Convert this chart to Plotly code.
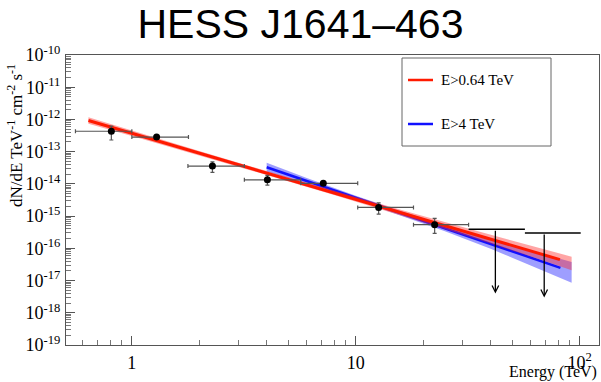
import plotly.graph_objects as go
import math

# ---------------- data ----------------
energy = [0.81, 1.29, 2.29, 4.03, 7.16, 12.65, 22.5]
energy_lo = [0.56, 1.0, 1.78, 3.18, 5.68, 10.2, 18.1]
energy_hi = [1.0, 1.79, 3.18, 5.68, 10.2, 18.1, 31.9]
flux = [4.3e-13, 2.84e-13, 3.57e-14, 1.34e-14, 1.04e-14, 1.86e-15, 5.44e-16]
flux_hi = [6.2e-13, 3.2e-13, 4.85e-14, 1.84e-14, 1.16e-14, 2.59e-15, 8.5e-16]
flux_lo = [2.3e-13, 2.5e-13, 2.28e-14, 9.2e-15, 0.93e-14, 1.15e-15, 2.9e-16]

ul_energy = [42.0, 69.4]
ul_energy_lo = [31.9, 56.9]
ul_energy_hi = [56.9, 101.0]
ul_flux = [3.94e-16, 2.97e-16]
ul_arrow_tip = [3.94e-18, 2.97e-18]

red_line_E = [0.64, 81.6]
red_line_F = [9.3e-13, 4.47e-17]
red_band_E = [0.64, 1, 2, 4, 8, 16, 32, 64, 92]
red_band_hi = [1.17e-12, 4.52e-13, 1.04e-13, 2.49e-14, 6.08e-15, 1.56e-15, 4.03e-16, 1.07e-16, 5.5e-17]
red_band_lo = [7.36e-13, 3.05e-13, 7.73e-14, 1.89e-14, 4.51e-15, 1.03e-15, 2.32e-16, 4.9e-17, 2.1e-17]

blue_line_E = [4.0, 82.0]
blue_line_F = [3.29e-14, 2.48e-17]
blue_band_E = [4, 6, 10, 15, 25, 40, 60, 92]
blue_band_hi = [4.49e-14, 1.54e-14, 4.27e-15, 1.63e-15, 5.16e-16, 1.94e-16, 8.67e-17, 3.77e-17]
blue_band_lo = [2.41e-14, 1.02e-14, 3.24e-15, 1.23e-15, 3.41e-16, 9.70e-17, 3.0e-17, 8.5e-18]

y_tick_exps = list(range(-19, -9))
x_tick_vals = [1, 10, 100]
x_tick_text = ["1", "10", "10<sup>2</sup>"]
legend_labels = ["E>0.64 TeV", "E>4 TeV"]

# ---------------- figure ----------------
SERIF = "Liberation Serif"
fig = go.Figure()

def band(E, hi, lo, color):
    return go.Scatter(x=E + E[::-1], y=hi + lo[::-1], fill="toself", fillcolor=color,
                      line=dict(width=0), mode="lines", hoverinfo="skip", showlegend=False)

fig.add_trace(band(blue_band_E, blue_band_hi, blue_band_lo, "rgba(40,40,255,0.45)"))
fig.add_trace(go.Scatter(x=blue_line_E, y=blue_line_F, mode="lines",
                         line=dict(color="#1010ff", width=2.5), showlegend=False))
fig.add_trace(band(red_band_E, red_band_hi, red_band_lo, "rgba(255,40,40,0.42)"))
fig.add_trace(go.Scatter(x=red_line_E, y=red_line_F, mode="lines",
                         line=dict(color="#ff1a00", width=3), showlegend=False))

# data points with errors
fig.add_trace(go.Scatter(
    x=energy, y=flux, mode="markers",
    marker=dict(color="black", size=7, symbol="circle"),
    error_x=dict(type="data", symmetric=False,
                 array=[h - e for h, e in zip(energy_hi, energy)],
                 arrayminus=[e - l for l, e in zip(energy_lo, energy)],
                 color="#555555", thickness=1.2, width=2),
    error_y=dict(type="data", symmetric=False,
                 array=[h - f for h, f in zip(flux_hi, flux)],
                 arrayminus=[f - l for l, f in zip(flux_lo, flux)],
                 color="#555555", thickness=1.2, width=2),
    showlegend=False))

# upper limits
for e, el, eh, f, tip in zip(ul_energy, ul_energy_lo, ul_energy_hi, ul_flux, ul_arrow_tip):
    fig.add_trace(go.Scatter(x=[el, eh], y=[f, f], mode="lines",
                             line=dict(color="black", width=1.5), showlegend=False))
    fig.add_annotation(x=math.log10(e), y=math.log10(tip), ax=math.log10(e), ay=math.log10(f),
                       xref="x", yref="y", axref="x", ayref="y", text="",
                       showarrow=True, arrowhead=5, arrowsize=1.0, arrowwidth=1.3,
                       arrowcolor="black")

# manual legend
def px2x(px):
    return (px - 66) / 533.0

def px2y(py):
    return (345 - py) / 290.0

fig.add_shape(type="rect", xref="paper", yref="paper",
              x0=px2x(402), x1=px2x(551), y0=px2y(146), y1=px2y(58),
              line=dict(color="#666666", width=1), fillcolor="white")
for lab, col, py in zip(legend_labels, ["#ff1a00", "#1010ff"], [80, 124]):
    fig.add_shape(type="line", xref="paper", yref="paper",
                  x0=px2x(408), x1=px2x(433), y0=px2y(py), y1=px2y(py),
                  line=dict(color=col, width=2.5))
    fig.add_annotation(xref="paper", yref="paper", x=px2x(439), y=px2y(py),
                       xanchor="left", yanchor="middle", text=lab, showarrow=False,
                       font=dict(family=SERIF, size=15, color="black"))

# axis titles
fig.add_annotation(xref="paper", yref="paper", x=px2x(15), y=px2y(136),
                   xanchor="center", yanchor="middle", textangle=-90, showarrow=False,
                   text="dN/dE TeV<sup>-1</sup> cm<sup>-2</sup> s<sup>-1</sup>",
                   font=dict(family=SERIF, size=17, color="black"))
fig.add_annotation(xref="paper", yref="paper", x=1.0, y=px2y(372),
                   xanchor="right", yanchor="middle", showarrow=False,
                   text="Energy (TeV)", font=dict(family=SERIF, size=16, color="black"))

fig.update_layout(
    width=601, height=382,
    margin=dict(l=66, r=2, t=55, b=37),
    paper_bgcolor="white", plot_bgcolor="white",
    showlegend=False,
    font=dict(family=SERIF, color="black"),
    title=dict(text="HESS J1641\u2013463", x=0.5, xref="container", xanchor="center",
               y=1 - 24 / 382, yref="container", yanchor="middle",
               font=dict(family="Liberation Sans", size=41, color="black")),
    xaxis=dict(type="log", range=[-0.294, 2.086], showgrid=False, zeroline=False,
               showline=True, mirror=True, linecolor="#555555", linewidth=1,
               ticks="inside", ticklen=9, tickcolor="#555555",
               tickvals=x_tick_vals, ticktext=x_tick_text, ticklabelstandoff=1,
               tickfont=dict(family=SERIF, size=18, color="black"),
               minor=dict(ticks="inside", ticklen=5, tickcolor="#777777", dtick="D1", showgrid=False)),
    yaxis=dict(type="log", range=[-19, -10], showgrid=False, zeroline=False,
               showline=True, mirror=True, linecolor="#555555", linewidth=1,
               ticks="inside", ticklen=9, tickcolor="#555555",
               tickvals=[10.0 ** k for k in y_tick_exps],
               ticktext=["10<sup>%d</sup>" % k for k in y_tick_exps],
               ticklabelstandoff=1,
               tickfont=dict(family=SERIF, size=18, color="black"),
               minor=dict(ticks="inside", ticklen=5, tickcolor="#777777", dtick="D1", showgrid=False)),
)

fig.write_html("out.html")
